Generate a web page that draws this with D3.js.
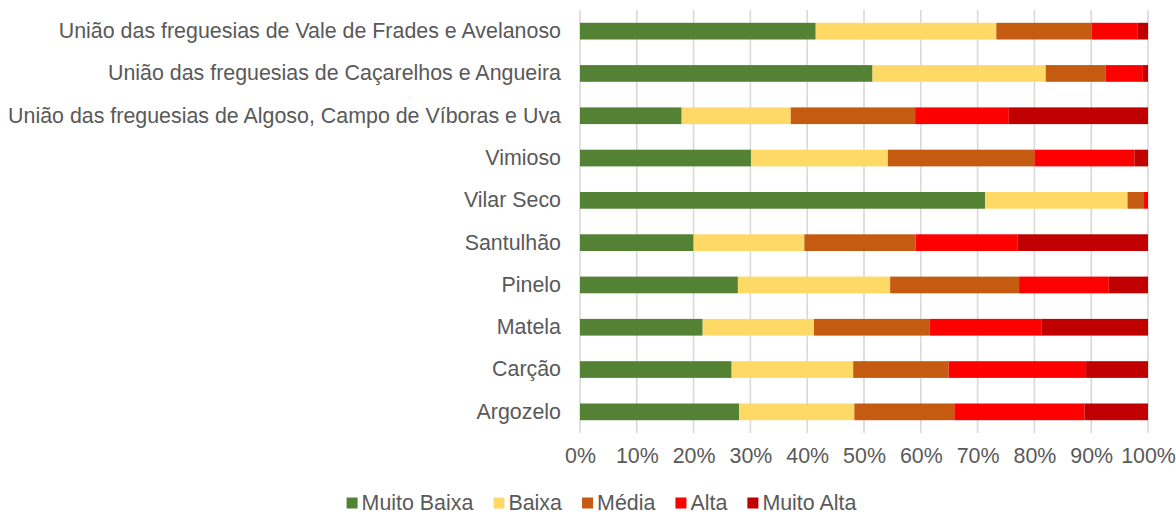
<!DOCTYPE html>
<html>
<head>
<meta charset="utf-8">
<script src="https://cdn.jsdelivr.net/npm/d3@7"></script>
<style>
  html, body { margin: 0; padding: 0; background: #ffffff; }
  svg { display: block; }
  text { font-family: "Liberation Sans", Arial, sans-serif; fill: #595959; }
</style>
</head>
<body>
<svg id="chart" width="1176" height="515"></svg>
<script>
// Parishes, top to bottom
const categories = [
  "União das freguesias de Vale de Frades e Avelanoso",
  "União das freguesias de Caçarelhos e Angueira",
  "União das freguesias de Algoso, Campo de Víboras e Uva",
  "Vimioso",
  "Vilar Seco",
  "Santulhão",
  "Pinelo",
  "Matela",
  "Carção",
  "Argozelo"
];

const seriesNames = ["Muito Baixa", "Baixa", "Média", "Alta", "Muito Alta"];
const seriesColors = ["#548235", "#FFD966", "#C55A11", "#FF0000", "#C00000"];

// Share (%) of each class, same order as categories
const muitoBaixa = [41.5, 51.5, 17.9, 30.1, 71.3, 20.0, 27.8, 21.6, 26.7, 28.0];
const baixa      = [31.8, 30.5, 19.2, 24.1, 25.1, 19.5, 26.8, 19.6, 21.4, 20.3];
const media      = [16.8, 10.5, 21.9, 25.8,  2.9, 19.6, 22.7, 20.4, 16.8, 17.6];
const alta       = [ 8.1,  6.6, 16.5, 17.6,  0.7, 17.9, 15.8, 19.7, 24.2, 22.9];
const muitoAlta  = [ 1.8,  0.9, 24.5,  2.4,  0.0, 23.0,  6.9, 18.7, 10.9, 11.2];

const tickValues = [0, 0.1, 0.2, 0.3, 0.4, 0.5, 0.6, 0.7, 0.8, 0.9, 1.0];

const seriesValues = [muitoBaixa, baixa, media, alta, muitoAlta];
const rows = categories.map((c, i) => {
  const r = { category: c };
  seriesNames.forEach((s, k) => { r[s] = seriesValues[k][i]; });
  return r;
});

const FONT = "'Liberation Sans', Arial, sans-serif";
const FS = 21.4;

const svg = d3.select("#chart");
const plot = { left: 580, right: 1148, top: 10, bottom: 433 };

const x = d3.scaleLinear().domain([0, 1]).range([plot.left, plot.right]);
const y = d3.scaleBand().domain(categories).range([plot.top, plot.bottom])
  .paddingInner(0.605).paddingOuter(0.3025);

// Vertical gridlines
svg.append("g").selectAll("line").data(tickValues).join("line")
  .attr("x1", d => x(d)).attr("x2", d => x(d))
  .attr("y1", plot.top).attr("y2", plot.bottom)
  .attr("stroke", "#d9d9d9").attr("stroke-width", 1.6);

// Stacked, normalised bars
const stack = d3.stack().keys(seriesNames).offset(d3.stackOffsetExpand);
const layers = stack(rows);

svg.append("g").selectAll("g").data(layers).join("g")
  .attr("fill", (d, i) => seriesColors[i])
  .selectAll("rect").data(d => d).join("rect")
  .attr("x", d => x(d[0]))
  .attr("width", d => Math.max(0, x(d[1]) - x(d[0])))
  .attr("y", d => y(d.data.category))
  .attr("height", y.bandwidth());

// Category labels
const yAxis = d3.axisLeft(y).tickSize(0).tickPadding(19);
const gy = svg.append("g").attr("transform", `translate(${plot.left},0)`).call(yAxis);
gy.select(".domain").remove();
gy.selectAll("text").attr("font-size", FS).style("font-family", FONT).attr("fill", "#595959");

// Percentage axis
const xAxis = d3.axisBottom(x).tickValues(tickValues).tickFormat(d3.format(".0%")).tickSize(0).tickPadding(15);
const gx = svg.append("g").attr("transform", `translate(0,${plot.bottom})`).call(xAxis);
gx.select(".domain").remove();
gx.selectAll("text").attr("font-size", FS).style("font-family", FONT).attr("fill", "#595959");

// Legend
const legend = svg.append("g");
const items = legend.selectAll("g").data(seriesNames).join("g");
items.append("rect").attr("width", 11).attr("height", 11).attr("y", -5.5)
  .attr("fill", (d, i) => seriesColors[i]);
items.append("text").attr("x", 15).attr("dy", "0.34em").attr("font-size", FS).text(d => d);
let offset = 0;
const gap = 20;
items.each(function () {
  const w = this.getBBox().width;
  d3.select(this).attr("transform", `translate(${offset},0)`);
  offset += w + gap;
});
const totalW = offset - gap;
legend.attr("transform", `translate(${601.5 - totalW / 2},503)`);
</script>
</body>
</html>
